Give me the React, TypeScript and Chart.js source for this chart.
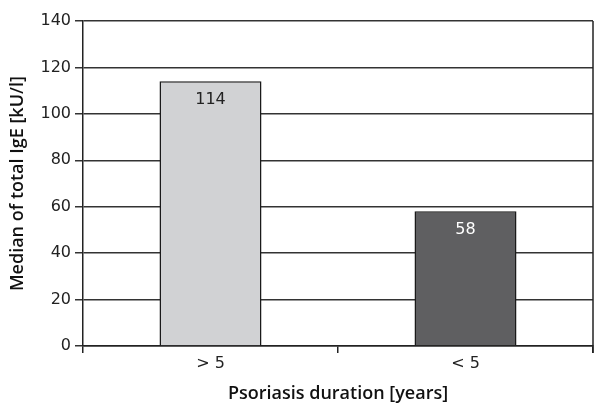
import React, { useEffect, useRef } from "react";
import { Chart, registerables } from "chart.js";

Chart.register(...registerables);

const categories = ["> 5", "< 5"];
const medianIgE = [114, 58];
const barColors = ["#d1d2d4", "#5f5f61"];
const labelColors = ["#222222", "#ffffff"];
const yTicks = [0, 20, 40, 60, 80, 100, 120, 140];

const TICK_FONT = "'DejaVu Sans', 'Open Sans', sans-serif";
const TITLE_FONT = "'Open Sans', 'Noto Sans', sans-serif";

export default function App() {
  const ref = useRef<HTMLCanvasElement | null>(null);

  useEffect(() => {
    document.body.style.margin = "0";
    if (!ref.current) return;

    const valueLabels = {
      id: "valueLabels",
      afterDatasetsDraw(chart: any) {
        const ctx = chart.ctx;
        const meta = chart.getDatasetMeta(0);
        ctx.save();
        ctx.font = `16px ${TICK_FONT}`;
        ctx.textAlign = "center";
        ctx.textBaseline = "middle";
        meta.data.forEach((bar: any, i: number) => {
          ctx.fillStyle = labelColors[i];
          ctx.fillText(String(medianIgE[i]), bar.x, bar.y + 18);
        });
        ctx.restore();
      },
    };

    const rightBorder = {
      id: "rightBorder",
      afterDraw(chart: any) {
        const { ctx, chartArea } = chart;
        ctx.save();
        ctx.strokeStyle = "#222222";
        ctx.lineWidth = 1.5;
        ctx.beginPath();
        ctx.moveTo(chartArea.right, chartArea.top);
        ctx.lineTo(chartArea.right, chartArea.bottom + 7);
        ctx.stroke();
        ctx.restore();
      },
    };

    const chart = new Chart(ref.current, {
      type: "bar",
      data: {
        labels: categories,
        datasets: [
          {
            data: medianIgE,
            backgroundColor: barColors,
            borderColor: "#1a1a1a",
            borderWidth: 1.5,
            borderSkipped: "bottom",
            categoryPercentage: 0.4,
            barPercentage: 1,
          },
        ],
      },
      options: {
        animation: false,
        responsive: false,
        maintainAspectRatio: false,
        layout: { padding: { top: 21, right: 1, left: 0, bottom: 0 } },
        plugins: {
          legend: { display: false },
          tooltip: { enabled: false },
        },
        scales: {
          x: {
            type: "category",
            offset: true,
            grid: {
              offset: true,
              drawOnChartArea: false,
              drawTicks: true,
              tickLength: 7,
              color: "#222222",
              lineWidth: 1.5,
            },
            border: { color: "#222222", width: 1.5 },
            ticks: {
              color: "#222222",
              font: { family: TICK_FONT, size: 16 },
              padding: 1,
            },
            title: {
              display: true,
              text: "Psoriasis duration [years]",
              color: "#111111",
              font: { family: TITLE_FONT, size: 18, weight: "600" },
              padding: { top: 5, bottom: 0 },
            },
            afterFit(scale: any) {
              scale.height = 59;
            },
          },
          y: {
            min: 0,
            max: 140,
            afterBuildTicks(scale: any) {
              scale.ticks = yTicks.map((v) => ({ value: v }));
            },
            grid: {
              color: "#333333",
              lineWidth: 1.5,
              drawTicks: true,
              tickLength: 8,
            },
            border: { color: "#222222", width: 1.5 },
            ticks: {
              color: "#222222",
              font: { family: TICK_FONT, size: 16 },
              padding: 4,
            },
            title: {
              display: true,
              text: "Median of total IgE [kU/l]",
              color: "#111111",
              font: { family: TITLE_FONT, size: 18, weight: "600" },
              padding: { top: 7, bottom: 2 },
            },
            afterFit(scale: any) {
              scale.width = 83;
            },
          },
        },
      },
      plugins: [valueLabels, rightBorder],
    });

    return () => chart.destroy();
  }, []);

  return (
    <div style={{ width: 594, height: 405 }}>
      <canvas ref={ref} width={594} height={405} style={{ display: "block" }} />
    </div>
  );
}
